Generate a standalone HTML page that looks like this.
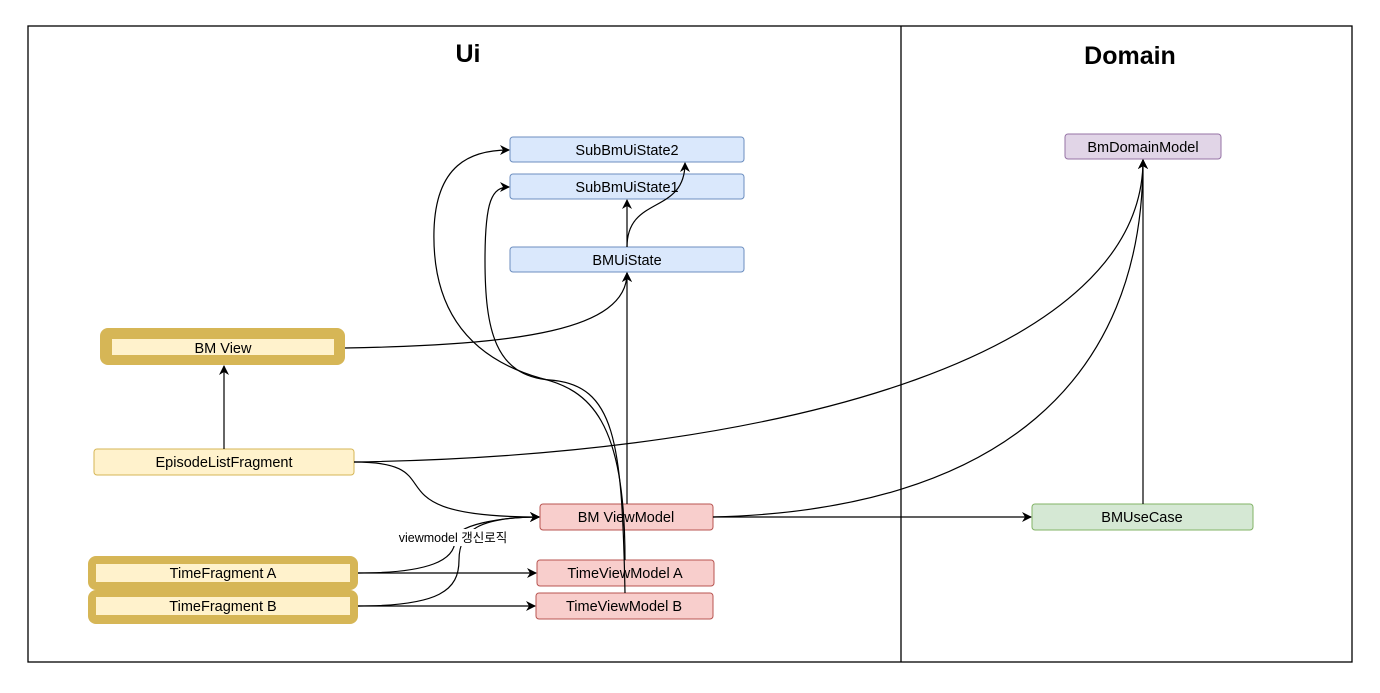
<!DOCTYPE html>
<html><head><meta charset="utf-8"><style>
body{margin:0;background:#fff;}
svg text{font-family:"Liberation Sans","Noto Sans CJK KR",sans-serif;}
</style></head><body>
<svg width="1380" height="688" viewBox="0 0 1380 688" xmlns="http://www.w3.org/2000/svg">
<defs>
<marker id="a" markerWidth="10" markerHeight="10" refX="9" refY="5" orient="auto" markerUnits="userSpaceOnUse">
<path d="M0,0 L10,5 L0,10 L3,5 Z" fill="#000"/>
</marker>
</defs>
<rect x="28" y="26" width="1324" height="636" fill="#fff" stroke="#000" stroke-width="1.3"/>
<line x1="901" y1="26" x2="901" y2="662" stroke="#000" stroke-width="1.3"/>
<text x="468" y="62" font-size="25" font-weight="bold" text-anchor="middle">Ui</text>
<text x="1130" y="64" font-size="25" font-weight="bold" text-anchor="middle">Domain</text>

<g font-size="14.5" text-anchor="middle">
<rect x="510" y="137" width="234" height="25" rx="3" fill="#dae8fc" stroke="#6c8ebf"/>
<text x="627" y="155">SubBmUiState2</text>
<rect x="510" y="174" width="234" height="25" rx="3" fill="#dae8fc" stroke="#6c8ebf"/>
<text x="627" y="192">SubBmUiState1</text>
<rect x="510" y="247" width="234" height="25" rx="3" fill="#dae8fc" stroke="#6c8ebf"/>
<text x="627" y="265">BMUiState</text>
<rect x="1065" y="134" width="156" height="25" rx="3" fill="#e1d5e7" stroke="#9673a6"/>
<text x="1143" y="152">BmDomainModel</text>

<rect x="100" y="328" width="245" height="37" rx="8" fill="#d6b656"/>
<rect x="112" y="339" width="222" height="16" fill="#fff2cc"/>
<text x="223" y="353">BM View</text>
<rect x="94" y="449" width="260" height="26" rx="3" fill="#fff2cc" stroke="#d6b656"/>
<text x="224" y="467">EpisodeListFragment</text>
<rect x="88" y="556" width="270" height="34" rx="8" fill="#d6b656"/>
<rect x="96" y="564" width="254" height="18" fill="#fff2cc"/>
<text x="223" y="578">TimeFragment A</text>
<rect x="88" y="590" width="270" height="34" rx="8" fill="#d6b656"/>
<rect x="96" y="597" width="254" height="18" fill="#fff2cc"/>
<text x="223" y="611">TimeFragment B</text>

<rect x="540" y="504" width="173" height="26" rx="3" fill="#f8cecc" stroke="#b85450"/>
<text x="626" y="522">BM ViewModel</text>
<rect x="537" y="560" width="177" height="26" rx="3" fill="#f8cecc" stroke="#b85450"/>
<text x="625" y="578">TimeViewModel A</text>
<rect x="536" y="593" width="177" height="26" rx="3" fill="#f8cecc" stroke="#b85450"/>
<text x="624" y="611">TimeViewModel B</text>
<rect x="1032" y="504" width="221" height="26" rx="3" fill="#d5e8d4" stroke="#82b366"/>
<text x="1142" y="522">BMUseCase</text>
</g>

<g fill="none" stroke="#000" stroke-width="1.2">
<path d="M224,449 L224,366" marker-end="url(#a)"/>
<path d="M345,348 C520,345 627,330 627,273" marker-end="url(#a)"/>
<path d="M627,504 L627,273" marker-end="url(#a)"/>
<path d="M627,247 L627,200" marker-end="url(#a)"/>
<path d="M627,247 C627,195 685,215 685,163" marker-end="url(#a)"/>
<path d="M625,560 C625,420 590,390 540,378 C460,355 432,300 434,230 C436,165 470,150 509,150" marker-end="url(#a)"/>
<path d="M625,593 C622,440 615,385 550,380 C495,376 485,330 485,260 C485,200 492,187 509,187" marker-end="url(#a)"/>
<path d="M354,462 C800,455 1143,350 1143,160" marker-end="url(#a)"/>
<path d="M713,517 C1000,510 1143,380 1143,160" marker-end="url(#a)"/>
<path d="M713,517 L1031,517" marker-end="url(#a)"/>
<path d="M1143,504 L1143,160" marker-end="url(#a)"/>
<path d="M354,462 C460,462 360,517 539,517" marker-end="url(#a)"/>
<path d="M358,573 L536,573" marker-end="url(#a)"/>
<path d="M358,606 L535,606" marker-end="url(#a)"/>
<path d="M358,573 C430,573 455,560 455,540 C455,525 500,517 539,517" marker-end="url(#a)"/>
<path d="M358,606 C440,606 459,590 459,560 C459,530 480,517 539,517" marker-end="url(#a)"/>
</g>
<rect x="405" y="529" width="96" height="17" fill="#fff"/>
<text x="453" y="542" font-size="12.5" text-anchor="middle">viewmodel 갱신로직</text>
</svg>
</body></html>
